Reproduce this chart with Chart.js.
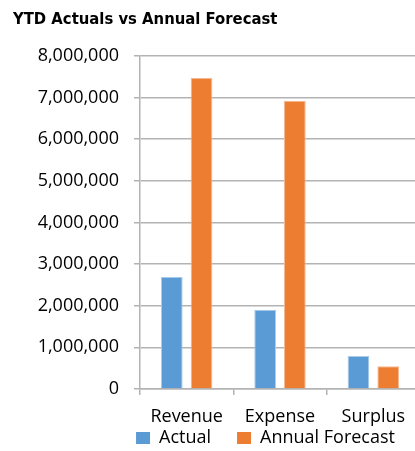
<!DOCTYPE html>
<html><head><meta charset="utf-8">
<script src="https://cdn.jsdelivr.net/npm/chart.js@4.4.1/dist/chart.umd.min.js"></script>
<style>
html,body{margin:0;padding:0;overflow:hidden;background:#fff;width:415px;height:451px}
#wrap{position:relative;width:420px;height:457px}
</style></head>
<body><div id="wrap"><canvas id="c" width="420" height="457"></canvas></div>
<script>
const chartTitle = 'YTD Actuals vs Annual Forecast';
const categories = ['Revenue', 'Expense', 'Surplus'];
const seriesNames = ['Actual', 'Annual Forecast'];
const actual = [2690000, 1900000, 790000];
const annualForecast = [7465000, 6920000, 545000];
const yTickValues = [0, 1000000, 2000000, 3000000, 4000000, 5000000, 6000000, 7000000, 8000000];

const gridColor = '#B3B3B3';
const labelFont = {family: "'Open Sans', 'Noto Sans', sans-serif", size: 18};

// keep the legend compact in the layout, then place it under the axis labels
const legendPlace = {
  id: 'legendPlace',
  beforeLayout(chart) {
    const lg = chart.legend;
    if (lg && !lg._patched) {
      const f = lg.fit;
      lg.fit = function () { f.call(this); this.height = 22; };
      lg._patched = true;
    }
  },
  afterLayout(chart) {
    const lg = chart.legend;
    if (lg) {
      lg.left += 49; lg.right += 49;
      lg.top = 403; lg.bottom = 457; lg.height = 54;
    }
  }
};

new Chart(document.getElementById('c'), {
  type: 'bar',
  data: {
    labels: categories,
    datasets: [
      {label: seriesNames[0], data: actual, backgroundColor: '#5B9BD5',
       borderColor: '#A9CBEA', borderWidth: 1,
       categoryPercentage: 0.637, barPercentage: 0.73},
      {label: seriesNames[1], data: annualForecast, backgroundColor: '#ED7D31',
       borderColor: '#F5B893', borderWidth: 1,
       categoryPercentage: 0.637, barPercentage: 0.73}
    ]
  },
  options: {
    responsive: false,
    animation: false,
    devicePixelRatio: 1,
    layout: {padding: {left: 13, right: 0, top: 0, bottom: 0}},
    plugins: {
      title: {
        display: true, text: chartTitle, align: 'start', color: '#000',
        font: {family: "'Liberation Sans Narrow', 'Arial Narrow', 'DejaVu Sans Condensed', sans-serif", size: 16.5, weight: 'bold'},
        padding: {top: 10, bottom: 26}
      },
      legend: {
        position: 'bottom',
        labels: {font: labelFont, color: '#000', boxWidth: 14, boxHeight: 12, padding: 26,
                 generateLabels(chart) {
                   return chart.data.datasets.map((d, i) => ({
                     text: d.label, fillStyle: d.backgroundColor, strokeStyle: d.backgroundColor,
                     lineWidth: 0, hidden: false, datasetIndex: i, fontColor: '#000'
                   }));
                 }}
      },
      tooltip: {enabled: false}
    },
    scales: {
      x: {
        grid: {display: true, drawOnChartArea: false, drawTicks: true, tickLength: 6, color: gridColor, offset: true, lineWidth: 1.5},
        border: {display: true, color: gridColor, width: 1.5},
        ticks: {font: labelFont, color: '#000', padding: 11, maxRotation: 0},
        afterFit(s) { s.height = 46; }
      },
      y: {
        min: 0, max: 8000000,
        afterBuildTicks(s) { s.ticks = yTickValues.map(v => ({value: v})); },
        grid: {color: gridColor, tickLength: 6, lineWidth: 1.5},
        border: {display: true, color: gridColor, width: 1.5},
        ticks: {font: labelFont, color: '#000', padding: 15,
                callback: v => Number(v).toLocaleString('en-US')},
        afterFit(s) { s.width = 127; }
      }
    }
  },
  plugins: [legendPlace]
});
</script>
</body></html>
